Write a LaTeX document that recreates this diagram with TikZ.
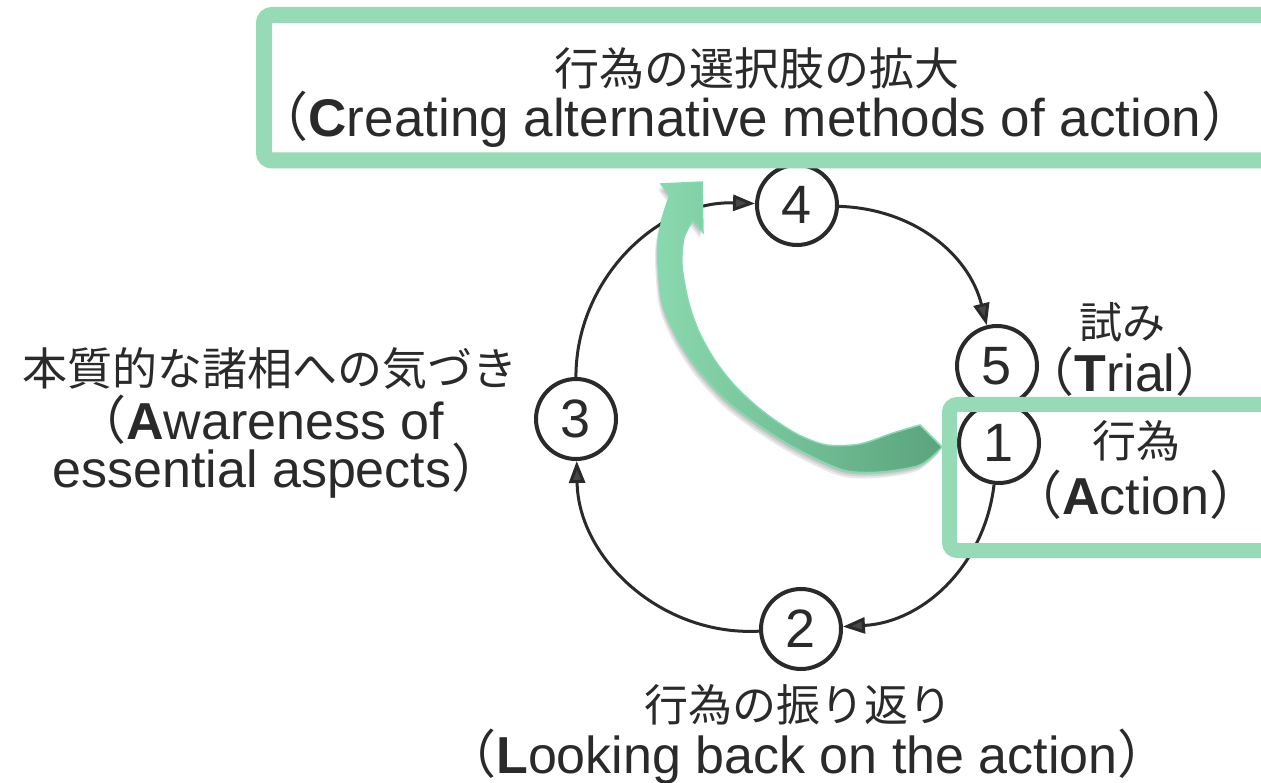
\documentclass[tikz,border=0pt]{standalone}
\usepackage{fontspec}
\setmainfont{Liberation Sans}
\newfontfamily\jp{Noto Sans CJK JP}
\usetikzlibrary{arrows.meta}
\definecolor{boxgreen}{HTML}{96DAB6}
\definecolor{arrlight}{HTML}{8AD8AE}
\definecolor{arrdark}{HTML}{5BA47D}
\definecolor{arredge}{HTML}{7FDCAF}
\definecolor{ink}{HTML}{2A2A2A}
\definecolor{tipgray}{HTML}{474747}
\newcommand{\jpo}{{\jp （}}
\newcommand{\jpc}{{\jp ）}}
\begin{document}
\begin{tikzpicture}[x=1pt,y=-1pt,
  stage/.style={circle, draw=ink, line width=4pt, minimum size=80pt, inner sep=0pt,
    font=\fontsize{54}{54}\selectfont, text=ink},
  cyc/.style={draw=ink, line width=3pt, -{Triangle[length=22pt,width=16pt,fill=tipgray]}},
  lbl/.style={inner sep=0pt, text=ink, font=\fontsize{52}{56}\selectfont},
  jlbl/.style={inner sep=0pt, text=ink, font=\jp\fontsize{44}{48}\selectfont},
  frame/.style={draw=boxgreen, line width=16pt, rounded corners=8pt},
  bandpath/.style={insert path={(661,184) -- (670,195)
  -- plot[smooth, tension=0.5] coordinates {(670,195) (662,220) (658,250) (662,300) (676,335) (697,368) (726,400) (760,426) (797,449) (843,470) (880,472) (920,465) (942,447)}
  -- (920,425)
  -- plot[smooth, tension=0.5] coordinates {(920,425) (893,433) (860,444) (827,445) (797,434) (765,413) (737,388) (716,362) (699,332) (688,300) (682,265) (684,238) (693,220)}
  -- (703,232) -- (702,182) -- cycle}},
  shadowlayer/.style={fill=black, opacity=0.09, draw=none}]
\useasboundingbox (0,0) rectangle (1261,783);
\clip (0,0) rectangle (1261,783);
\fill[white] (0,0) rectangle (1261,783);

% stages
\node[stage] (n4) at (797,205) {4};
\node[stage] (n5) at (997,366) {5};
\node[stage] (n1) at (999,443) {1};
\node[stage] (n3) at (576,419) {3};
\node[stage] (n2) at (801,629) {2};

% cycle connectors
\draw[cyc] (n3) to[bend left=46] (n4);
\draw[cyc] (n4) to[bend left=37] (n5);
\draw[cyc] (n1) to[bend left=40] (n2);
\draw[cyc] (n2) to[bend left=46] (n3);

% green curved arrow with soft shadow
\path[shadowlayer, shift={(-1,2)}, bandpath];
\path[shadowlayer, shift={(-2,4)}, bandpath];
\path[shadowlayer, shift={(-3,6)}, bandpath];
\path[left color=arrlight, right color=arrdark, draw=arredge, line width=1.5pt, bandpath];

% frames
\draw[frame] (264,15) rectangle (1320,160.5);
\draw[frame, line width=15pt] (949.5,404.5) rectangle (1320,550.5);

% labels
\node[jlbl, font=\jp\fontsize{45}{48}\selectfont] (tjp) at (757,68) {行為の選択肢の拡大};
\node[lbl, font=\fontsize{53}{56}\selectfont] (ten) at (755,119) {\jpo\textbf{C}reating alternative methods of action\jpc};
\node[jlbl, font=\jp\fontsize{43}{48}\selectfont] (sjp) at (1122,322) {試み};
\node[lbl] (sen) at (1125,372) {\jpo\textbf{T}rial\jpc};
\node[jlbl] (ajp) at (1136,441) {行為};
\node[lbl] (aen) at (1136,495) {\jpo\textbf{A}ction\jpc};
\node[jlbl, font=\jp\fontsize{45}{48}\selectfont] (wjp) at (270,368) {本質的な諸相への気づき};
\node[lbl] (wen1) at (259,420) {\jpo\textbf{A}wareness of};
\node[lbl] (wen2) at (278,471) {essential aspects\jpc};
\node[jlbl] (ljp) at (798,705) {行為の振り返り};
\node[lbl] (len) at (807,757) {\jpo\textbf{L}ooking back on the action\jpc};
\end{tikzpicture}
\end{document}
